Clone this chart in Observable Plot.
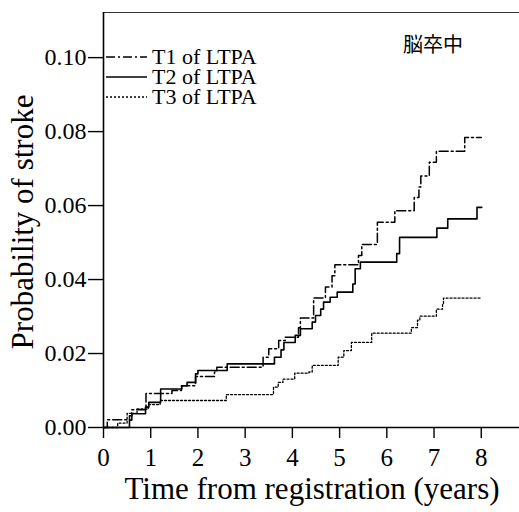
<!DOCTYPE html>
<html><head><meta charset="utf-8">
<script src="https://cdn.jsdelivr.net/npm/d3@7"></script>
<script src="https://cdn.jsdelivr.net/npm/@observablehq/plot@0.6"></script>
<style>
body{margin:0;background:#fff;}
#chart{position:relative;width:519px;height:512px;}
svg{font-family:"Liberation Serif","Times New Roman",serif;}
</style></head><body><div id="chart"></div>
<script>
// ---- data ----
const seriesNames = ["T1 of LTPA", "T2 of LTPA", "T3 of LTPA"];
const t1Time = [0, 0.08, 0.55, 0.6, 0.9, 1.45, 1.65, 1.95, 2.35, 2.4, 3.38, 3.5, 3.71, 3.85, 4.13, 4.17, 4.45, 4.7, 4.84, 4.9, 5.4, 5.47, 5.8, 6.17, 6.58, 6.68, 6.72, 6.9, 7.05, 7.65, 8.0];
const t1Prob = [0, 0.0021, 0.0032, 0.0048, 0.0092, 0.0100, 0.0113, 0.0138, 0.0150, 0.0163, 0.0190, 0.0213, 0.0235, 0.0244, 0.0270, 0.0296, 0.0350, 0.0380, 0.0410, 0.0440, 0.0465, 0.0495, 0.0555, 0.0586, 0.0622, 0.0650, 0.0680, 0.0717, 0.0747, 0.0784, 0.0784];
const t2Time = [0, 0.55, 0.6, 0.89, 0.96, 1.21, 1.66, 1.77, 1.95, 2.0, 2.62, 3.62, 3.76, 3.82, 4.06, 4.17, 4.42, 4.49, 4.6, 4.66, 4.8, 4.95, 5.28, 5.33, 5.44, 6.21, 6.27, 7.06, 7.29, 7.91, 8.01];
const t2Prob = [0, 0.0020, 0.0037, 0.0055, 0.0068, 0.0104, 0.0113, 0.0122, 0.0145, 0.0154, 0.0172, 0.0190, 0.0210, 0.0230, 0.0249, 0.0267, 0.0285, 0.0303, 0.0320, 0.0339, 0.0352, 0.0366, 0.0388, 0.0429, 0.0447, 0.0470, 0.0514, 0.0539, 0.0564, 0.0595, 0.0595];
const t3Time = [0, 0.3, 0.5, 0.71, 0.95, 1.2, 2.6, 3.6, 3.7, 3.8, 4.05, 4.35, 4.42, 4.97, 5.09, 5.25, 5.68, 6.52, 6.65, 6.7, 7.05, 7.18, 7.2, 8.01];
const t3Prob = [0, 0.0012, 0.0038, 0.0050, 0.0062, 0.0073, 0.0089, 0.0109, 0.0122, 0.0131, 0.0147, 0.0150, 0.0168, 0.0190, 0.0208, 0.0230, 0.0255, 0.0270, 0.0290, 0.0301, 0.0320, 0.0334, 0.0350, 0.0350];
const xTicks = [0, 1, 2, 3, 4, 5, 6, 7, 8];
const yTicks = [0, 0.02, 0.04, 0.06, 0.08, 0.10];
const xTitle = "Time from registration (years)";
const yTitle = "Probability of stroke";
const panelLabel = "脳卒中";

const dashes = ["9,3,2,3", null, "2,2"];
const widths = [1.5, 1.6, 1.3];

const rows = (ts, ps) => ts.map((t, i) => ({t, p: ps[i]}));
const series = [rows(t1Time, t1Prob), rows(t2Time, t2Prob), rows(t3Time, t3Prob)];

const FONT = '"Liberation Serif","Times New Roman",serif';

const chart = Plot.plot({
  width: 519, height: 512,
  marginLeft: 103, marginRight: 0, marginTop: 12, marginBottom: 85,
  style: {background: "#fff", color: "#000", fontFamily: FONT, overflow: "visible"},
  x: {domain: [0, 8.81], label: null},
  y: {domain: [0, 0.1122], label: null},
  marks: [
    Plot.frame({anchor: "top", stroke: "#333", strokeWidth: 1.2}),
    Plot.axisX({ticks: xTicks, tickSize: 11, tickPadding: 10, fontSize: 25, tickFormat: d => String(d), strokeWidth: 1.4}),
    Plot.axisY({ticks: yTicks, tickSize: 15, tickPadding: 2, fontSize: 24, tickFormat: d => d.toFixed(2), strokeWidth: 1.4}),
    Plot.ruleX([0], {strokeWidth: 1.6}),
    Plot.ruleY([0], {strokeWidth: 1.6}),
    ...series.map((s, i) => Plot.line(s, {
      x: "t", y: "p", curve: "step-after",
      stroke: "#000", strokeWidth: widths[i],
      strokeDasharray: dashes[i]
    }))
  ]
});

document.getElementById("chart").appendChild(chart);

const svg = d3.select(chart);
// legend
const lg = svg.append("g").attr("text-anchor", "start");
seriesNames.forEach((name, i) => {
  const y = 57 + i * 20;
  lg.append("line").attr("x1", 106).attr("x2", 147).attr("y1", y).attr("y2", y)
    .attr("stroke", "#000").attr("stroke-width", widths[i])
    .attr("stroke-dasharray", dashes[i] || null);
  lg.append("text").attr("x", 152).attr("y", y).attr("dy", "0.34em")
    .attr("text-anchor", "start")
    .attr("font-size", 22).attr("font-family", FONT).attr("fill", "#000").text(name);
});
// panel label
svg.append("text").attr("x", 403).attr("y", 45).attr("dy", "0.36em")
  .attr("text-anchor", "start")
  .attr("font-size", 20).attr("font-family", '"Noto Sans CJK JP"').attr("fill", "#000")
  .text(panelLabel);
// axis titles
svg.append("text").attr("x", 312).attr("y", 499).attr("text-anchor", "middle")
  .attr("font-size", 31).attr("font-family", FONT).attr("fill", "#000").text(xTitle);
svg.append("text").attr("transform", "translate(33,222) rotate(-90)").attr("text-anchor", "middle")
  .attr("font-size", 31).attr("font-family", FONT).attr("fill", "#000").text(yTitle);
</script></body></html>
